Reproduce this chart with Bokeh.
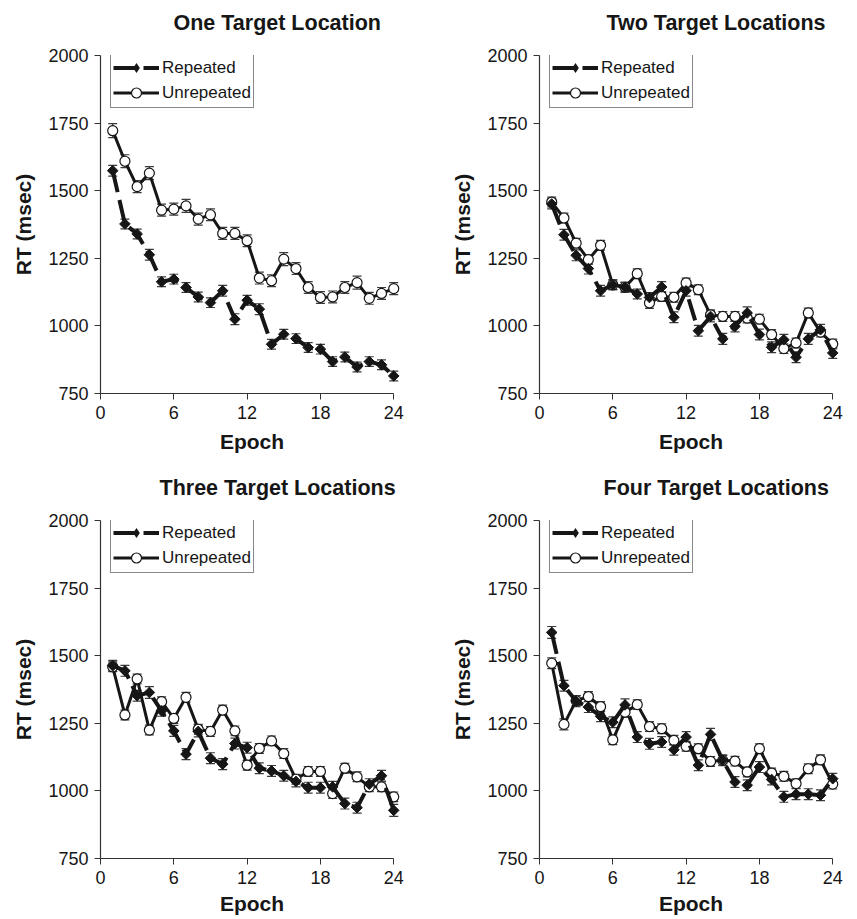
import math
from bokeh.plotting import figure
from bokeh.models import (ColumnDataSource, Legend, LegendItem, Title,
                          FixedTicker, Range1d)
from bokeh.layouts import column, row
from bokeh.embed import file_html
from bokeh.resources import INLINE

epochs = [1, 2, 3, 4, 5, 6, 7, 8, 9, 10, 11, 12,
          13, 14, 15, 16, 17, 18, 19, 20, 21, 22, 23, 24]
x_ticks = [0, 6, 12, 18, 24]
y_ticks = [750, 1000, 1250, 1500, 1750, 2000]

titles = ["One Target Location", "Two Target Locations",
          "Three Target Locations", "Four Target Locations"]

one_rep = [1574, 1377, 1340, 1263, 1163, 1173, 1142, 1107, 1086, 1130, 1025, 1095,
           1062, 932, 969, 953, 920, 914, 868, 885, 848, 868, 856, 815]
one_rep_err = [20, 18, 18, 20, 18, 18, 18, 18, 18, 20, 20, 18,
               20, 18, 18, 18, 18, 18, 18, 18, 18, 18, 18, 18]
one_unrep = [1722, 1609, 1515, 1565, 1428, 1432, 1444, 1395, 1411, 1342, 1342, 1315,
             1177, 1167, 1247, 1212, 1142, 1105, 1107, 1142, 1160, 1102, 1120, 1138]
one_unrep_err = [26, 24, 22, 24, 22, 22, 24, 22, 22, 22, 22, 22,
                 22, 22, 24, 22, 22, 22, 22, 22, 24, 22, 22, 22]

two_rep = [1451, 1337, 1261, 1212, 1130, 1152, 1143, 1118, 1105, 1144, 1032, 1130,
           982, 1035, 952, 998, 1048, 968, 921, 949, 884, 952, 986, 900]
two_rep_err = [18, 20, 20, 20, 20, 18, 18, 18, 18, 20, 20, 20,
               20, 20, 20, 20, 22, 20, 20, 20, 20, 20, 20, 20]
two_unrep = [1458, 1399, 1306, 1245, 1298, 1152, 1143, 1193, 1085, 1109, 1106, 1159,
             1134, 1041, 1035, 1035, 1029, 1025, 968, 916, 937, 1048, 977, 933]
two_unrep_err = [18, 18, 18, 18, 18, 18, 18, 18, 20, 18, 18, 18,
                 18, 18, 18, 18, 18, 18, 18, 18, 18, 18, 18, 18]

three_rep = [1463, 1444, 1352, 1364, 1296, 1222, 1136, 1220, 1121, 1099, 1175, 1160,
             1084, 1074, 1056, 1035, 1012, 1012, 1015, 953, 938, 1025, 1056, 928]
three_rep_err = [20, 20, 20, 22, 20, 20, 20, 20, 20, 20, 20, 20,
                 20, 20, 20, 20, 20, 20, 20, 20, 20, 20, 20, 22]
three_unrep = [1459, 1281, 1414, 1225, 1330, 1268, 1346, 1228, 1220, 1299, 1222, 1095,
               1157, 1185, 1138, 1043, 1072, 1072, 990, 1084, 1052, 1015, 1015, 978]
three_unrep_err = [18, 18, 18, 18, 18, 18, 18, 18, 18, 18, 18, 18,
                   18, 18, 18, 18, 18, 18, 18, 18, 18, 18, 18, 18]

four_rep = [1586, 1389, 1332, 1310, 1276, 1254, 1318, 1199, 1174, 1181, 1152, 1199,
            1095, 1209, 1113, 1033, 1021, 1088, 1042, 978, 988, 988, 984, 1045]
four_rep_err = [22, 20, 20, 20, 20, 20, 22, 20, 20, 20, 20, 20,
                20, 22, 20, 20, 20, 20, 20, 20, 20, 20, 20, 20]
four_unrep = [1472, 1246, 1334, 1349, 1312, 1189, 1291, 1319, 1238, 1230, 1187, 1165,
              1156, 1109, 1113, 1110, 1070, 1156, 1066, 1054, 1027, 1082, 1115, 1025]
four_unrep_err = [20, 20, 18, 18, 18, 18, 18, 18, 18, 18, 18, 18,
                  18, 18, 18, 18, 18, 18, 18, 18, 18, 18, 18, 18]

FONT = "Liberation Sans"
INK = "#161616"
ERR = "#3a3a3a"


def make_panel(title, title_offset, rep, rep_err, unrep, unrep_err,
               right_border, bottom_border, xlabel_standoff):
    p = figure(frame_width=303, frame_height=338,
               min_border_left=100, min_border_right=right_border,
               min_border_top=55, min_border_bottom=bottom_border,
               x_range=Range1d(0, 24.8), y_range=Range1d(750, 2000),
               output_backend="svg", toolbar_location=None,
               background_fill_color="white", border_fill_color="white")
    p.outline_line_color = None
    p.grid.visible = False
    p.title.text = ""

    # blank spacer between the frame and the title, then the title itself
    p.add_layout(Title(text=" ", text_font=FONT, text_font_size="16px",
                       standoff=0), "above")
    p.add_layout(Title(text=title, align="left", offset=title_offset,
                       text_font=FONT, text_font_size="21.5px",
                       text_font_style="bold", text_color=INK, standoff=4),
                 "above")

    for ax in (p.xaxis[0], p.yaxis[0]):
        ax.axis_line_color = "#333333"
        ax.axis_line_width = 1.2
        ax.major_tick_line_color = "#333333"
        ax.major_tick_out = 6
        ax.major_tick_in = 0
        ax.minor_tick_line_color = None
        ax.major_label_text_font = FONT
        ax.major_label_text_font_size = "18px"
        ax.major_label_text_color = INK
        ax.axis_label_text_font = FONT
        ax.axis_label_text_font_size = "21px"
        ax.axis_label_text_font_style = "bold"
        ax.axis_label_text_color = INK
    p.xaxis.ticker = FixedTicker(ticks=x_ticks)
    p.yaxis.ticker = FixedTicker(ticks=y_ticks)
    p.xaxis.bounds = (0, 24)
    p.xaxis.axis_label = "Epoch"
    p.yaxis.axis_label = "RT (msec)"
    p.xaxis.major_label_standoff = 6
    p.xaxis.axis_label_standoff = xlabel_standoff
    p.yaxis.major_label_standoff = 6
    p.yaxis.axis_label_standoff = 10

    rep_src = ColumnDataSource(dict(
        x=epochs, y=rep,
        lo=[v - e for v, e in zip(rep, rep_err)],
        hi=[v + e for v, e in zip(rep, rep_err)]))
    un_src = ColumnDataSource(dict(
        x=epochs, y=unrep,
        lo=[v - e for v, e in zip(unrep, unrep_err)],
        hi=[v + e for v, e in zip(unrep, unrep_err)]))

    # error bars
    for src in (un_src, rep_src):
        p.segment(x0="x", y0="lo", x1="x", y1="hi", source=src,
                  line_color=ERR, line_width=1.2)
        p.scatter(x="x", y="lo", source=src, marker="dash", size=9,
                  line_color=ERR, line_width=1.2)
        p.scatter(x="x", y="hi", source=src, marker="dash", size=9,
                  line_color=ERR, line_width=1.2)

    un_line = p.line(x="x", y="y", source=un_src, line_color=INK, line_width=3)
    un_pts = p.scatter(x="x", y="y", source=un_src, marker="circle", size=10,
                       fill_color="white", line_color=INK, line_width=1.2)
    rep_line = p.line(x="x", y="y", source=rep_src, line_color=INK, line_width=4,
                      line_dash="22 8")
    p.scatter(x="x", y="y", source=rep_src, marker="square", size=7.5,
              angle=math.pi / 4,
              fill_color=INK, line_color=INK, line_width=1)
    # zero-size diamond: invisible in the plot, gives a diamond legend glyph
    legend_diamond = p.scatter(x="x", y="y", source=rep_src, marker="diamond",
                               size=0.01, fill_color=INK, line_color=None)

    legend = Legend(items=[
        LegendItem(label="Repeated", renderers=[rep_line, legend_diamond]),
        LegendItem(label="Unrepeated", renderers=[un_line, un_pts]),
    ], location=(10, 285))
    legend.glyph_width = 46
    legend.glyph_height = 25
    legend.label_height = 21
    legend.label_standoff = 3
    legend.spacing = 0
    legend.padding = 2
    legend.margin = 0
    legend.border_line_color = "#111111"
    legend.border_line_width = 1.2
    legend.background_fill_color = "white"
    legend.background_fill_alpha = 1
    legend.label_text_font = FONT
    legend.label_text_font_size = "17px"
    legend.label_text_color = INK
    p.add_layout(legend, "center")
    return p


p1 = make_panel(titles[0], 73, one_rep, one_rep_err, one_unrep, one_unrep_err, 36, 72, 8)
p2 = make_panel(titles[1], 67, two_rep, two_rep_err, two_unrep, two_unrep_err, 8, 72, 8)
p3 = make_panel(titles[2], 59, three_rep, three_rep_err, three_unrep, three_unrep_err, 36, 58, 5)
p4 = make_panel(titles[3], 64, four_rep, four_rep_err, four_unrep, four_unrep_err, 8, 58, 5)

layout = column(row(p1, p2), row(p3, p4))
open("out.html", "w").write(file_html(layout, INLINE))
